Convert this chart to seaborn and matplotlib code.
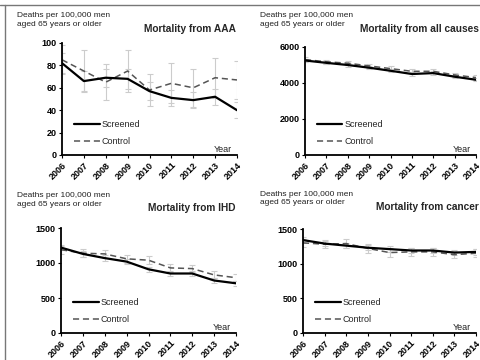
import numpy as np
import pandas as pd
import matplotlib
matplotlib.use("Agg")
import matplotlib.pyplot as plt
from matplotlib.lines import Line2D
import seaborn as sns

sns.set_style("ticks")
plt.rcParams["font.family"] = ["Liberation Sans", "DejaVu Sans"]

years = [2006, 2007, 2008, 2009, 2010, 2011, 2012, 2013, 2014]

# Mortality from AAA
aaa_screened = [82, 66, 69, 68, 57, 51, 49, 52, 40]
aaa_screened_err = [9, 9, 8, 9, 8, 7, 7, 7, 7]
aaa_control = [85, 75, 65, 75, 58, 64, 60, 69, 67]
aaa_control_err = [13, 19, 16, 19, 14, 18, 17, 18, 17]

# Mortality from all causes
all_screened = [5250, 5120, 5000, 4850, 4680, 4500, 4550, 4350, 4180]
all_screened_err = [90, 90, 90, 90, 90, 90, 90, 90, 90]
all_control = [5300, 5180, 5100, 4950, 4800, 4650, 4650, 4450, 4300]
all_control_err = [120, 120, 120, 120, 120, 120, 120, 120, 120]

# Mortality from IHD
ihd_screened = [1220, 1130, 1070, 1020, 910, 850, 850, 750, 710]
ihd_screened_err = [40, 40, 40, 40, 35, 35, 35, 35, 35]
ihd_control = [1190, 1140, 1130, 1060, 1040, 930, 920, 830, 790]
ihd_control_err = [60, 60, 60, 55, 55, 55, 55, 50, 50]

# Mortality from cancer
can_screened = [1340, 1290, 1260, 1230, 1210, 1190, 1190, 1160, 1170]
can_screened_err = [40, 40, 40, 40, 40, 40, 40, 40, 40]
can_control = [1300, 1280, 1290, 1220, 1160, 1170, 1170, 1130, 1150]
can_control_err = [60, 60, 60, 60, 60, 60, 60, 55, 55]

titles = ["Mortality from AAA", "Mortality from all causes",
          "Mortality from IHD", "Mortality from cancer"]
ylims = [100, 6000, 1500, 1500]
yticks = [[0, 20, 40, 60, 80, 100], [0, 2000, 4000, 6000],
          [0, 500, 1000, 1500], [0, 500, 1000, 1500]]
unit_label = "Deaths per 100,000 men\naged 65 years or older"

panels = [
    (aaa_screened, aaa_screened_err, aaa_control, aaa_control_err),
    (all_screened, all_screened_err, all_control, all_control_err),
    (ihd_screened, ihd_screened_err, ihd_control, ihd_control_err),
    (can_screened, can_screened_err, can_control, can_control_err),
]

W, H = 481, 360
fig = plt.figure(figsize=(W / 100, H / 100), dpi=100)

# axes boxes in pixels: left, right, top(y of max), bottom(y of 0)
boxes = [(62, 237, 43, 155), (305, 476, 47, 155),
         (61, 236, 228, 333), (303, 476, 229, 333)]
title_pos = [(236, 29), (479, 29), (236, 208), (479, 207)]
unit_pos = [(17, 12), (260, 12), (17, 192), (260, 191)]

grey_err = "#cccccc"
dash = (0, (4, 2.5))
for i, (sc, sc_e, ct, ct_e) in enumerate(panels):
    l, r, t, b = boxes[i]
    ax = fig.add_axes([l / W, 1 - b / H, (r - l) / W, (b - t) / H])
    df = pd.DataFrame({
        "Year": years * 2,
        "Rate": list(sc) + list(ct),
        "Group": ["Screened"] * len(years) + ["Control"] * len(years),
    })
    ax.errorbar(years, ct, yerr=ct_e, fmt="none", ecolor=grey_err,
                elinewidth=0.8, capsize=2, capthick=0.8, zorder=1)
    ax.errorbar(years, sc, yerr=sc_e, fmt="none", ecolor=grey_err,
                elinewidth=0.8, capsize=2, capthick=0.8, zorder=1)
    sns.lineplot(data=df[df.Group == "Control"], x="Year", y="Rate", ax=ax,
                 color="#555555", lw=1.1, linestyle=dash, zorder=2)
    sns.lineplot(data=df[df.Group == "Screened"], x="Year", y="Rate", ax=ax,
                 color="black", lw=1.6, zorder=3)
    ax.set_xlim(2006, 2014)
    ax.set_ylim(0, ylims[i])
    ax.set_xticks(years)
    ax.set_xticklabels([str(y) for y in years], rotation=45, ha="right",
                       rotation_mode="anchor", fontsize=6.5, fontweight="bold")
    ax.set_yticks(yticks[i])
    ax.set_yticklabels([str(v) for v in yticks[i]], fontsize=6.5,
                       fontweight="bold")
    ax.tick_params(axis="both", length=2.5, width=0.8, pad=1.5, colors="black")
    ax.set_xlabel("")
    ax.set_ylabel("")
    for s in ["top", "right"]:
        ax.spines[s].set_visible(False)
    for s in ["left", "bottom"]:
        ax.spines[s].set_linewidth(1.3)
        ax.spines[s].set_color("black")
    ax.set_facecolor("none")
    ax.text(0.97, 0.01, "Year", transform=ax.transAxes, ha="right",
            va="bottom", fontsize=6.5, color="#222222")
    handles = [Line2D([], [], color="black", lw=1.6),
               Line2D([], [], color="#555555", lw=1.1, linestyle=dash)]
    ax.legend(handles, ["Screened", "Control"], loc="lower left",
              bbox_to_anchor=(0.05, 0.05), frameon=False, fontsize=6.5,
              handlelength=2.8, handletextpad=0.2, labelspacing=0.9,
              borderaxespad=0)
    tx, ty = title_pos[i]
    fig.text(tx / W, 1 - ty / H, titles[i], ha="right", va="center",
             fontsize=7.3, fontweight="bold")
    ux, uy = unit_pos[i]
    fig.text(ux / W, 1 - uy / H, unit_label, ha="left", va="top",
             fontsize=6, linespacing=1.3, color="#222222")

# frame lines along the top and left edges
fig.add_artist(Line2D([0, 1], [1 - 5 / H, 1 - 5 / H], color="#777777",
                      lw=1, transform=fig.transFigure))
fig.add_artist(Line2D([5 / W, 5 / W], [0, 1 - 5 / H], color="#777777",
                      lw=1, transform=fig.transFigure))

fig.savefig("out.png", dpi=100)
